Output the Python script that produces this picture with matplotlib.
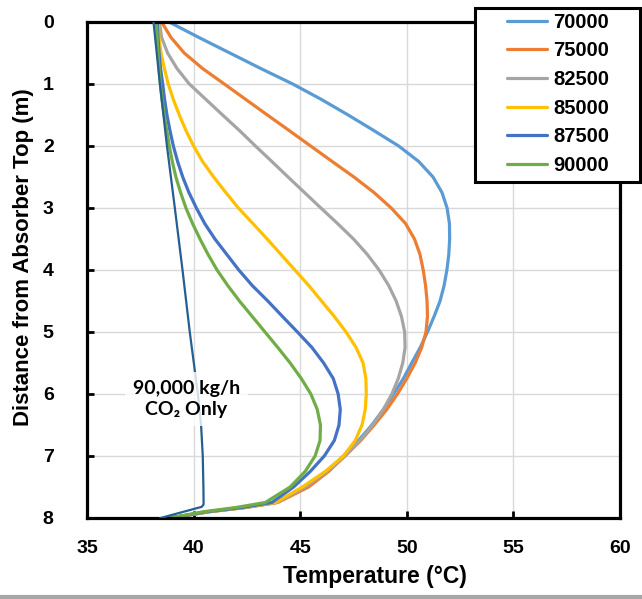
import matplotlib
matplotlib.use("Agg")
import matplotlib.pyplot as plt
from matplotlib.patches import Rectangle
from matplotlib.lines import Line2D

# flow rates (kg/h) and colours
labels = ["70000", "75000", "82500", "85000", "87500", "90000"]
colors = ["#5B9BD5", "#ED7D31", "#A5A5A5", "#FFC000", "#4472C4", "#70AD47"]

# distance from absorber top (m), shared by the six profiles
depth = [0, 0.25, 0.5, 0.75, 1.0, 1.25, 1.5, 1.75, 2.0, 2.25, 2.5, 2.75, 3.0, 3.25, 3.5, 3.75,
         4.0, 4.25, 4.5, 4.75, 5.0, 5.25, 5.5, 5.75, 6.0, 6.25, 6.5, 6.75, 7.0, 7.25, 7.5, 7.75,
         7.83, 7.9, 8.0]

# temperature (degC)
t_70000 = [38.85, 40.25, 41.7, 43.15, 44.65, 46.0, 47.25, 48.45, 49.62, 50.56, 51.23, 51.65,
           51.89, 52.0, 52.01, 51.97, 51.88, 51.75, 51.56, 51.28, 50.97, 50.63, 50.23, 49.84,
           49.38, 48.9, 48.36, 47.73, 47.03, 46.25, 45.3, 43.85, 42.4, 40.7, 38.9]
t_75000 = [38.5, 38.94, 39.56, 40.42, 41.44, 42.45, 43.46, 44.48, 45.49, 46.5, 47.52, 48.46,
           49.27, 49.94, 50.36, 50.62, 50.77, 50.88, 50.95, 50.97, 50.9, 50.7, 50.39, 50.0,
           49.56, 49.06, 48.47, 47.84, 47.1, 46.33, 45.39, 43.95, 42.45, 40.7, 38.9]
t_82500 = [38.4, 38.5, 38.78, 39.22, 39.8, 40.58, 41.36, 42.15, 42.9, 43.67, 44.43, 45.2,
           45.97, 46.75, 47.5, 48.15, 48.7, 49.15, 49.5, 49.75, 49.9, 49.92, 49.81, 49.6,
           49.3, 48.9, 48.4, 47.8, 47.1, 46.25, 45.23, 43.9, 42.4, 40.7, 38.9]
t_85000 = [38.35, 38.37, 38.47, 38.63, 38.81, 39.05, 39.33, 39.64, 40.0, 40.42, 40.94, 41.51,
           42.1, 42.78, 43.45, 44.1, 44.75, 45.4, 46.0, 46.6, 47.15, 47.62, 47.95, 48.08,
           48.1, 48.05, 47.9, 47.58, 47.03, 46.17, 45.1, 43.85, 42.35, 40.65, 38.9]
t_87500 = [38.3, 38.33, 38.38, 38.45, 38.55, 38.64, 38.75, 38.89, 39.05, 39.25, 39.49, 39.78,
           40.13, 40.52, 41.0, 41.56, 42.12, 42.75, 43.48, 44.17, 44.87, 45.55, 46.1, 46.55,
           46.78, 46.88, 46.82, 46.6, 46.13, 45.47, 44.69, 43.67, 42.3, 40.6, 38.9]
t_90000 = [38.25, 38.29, 38.33, 38.38, 38.44, 38.52, 38.62, 38.74, 38.86, 39.0, 39.17, 39.39,
           39.64, 39.95, 40.3, 40.68, 41.1, 41.6, 42.15, 42.75, 43.35, 43.95, 44.53, 45.05,
           45.5, 45.8, 45.95, 45.93, 45.7, 45.23, 44.53, 43.36, 42.0, 40.45, 38.9]

# 90,000 kg/h, CO2 only
d_co2 = [0, 1.0, 2.0, 3.0, 4.0, 5.0, 6.0, 6.5, 7.0, 7.5, 7.78, 7.82, 8.0]
t_co2 = [38.12, 38.42, 38.75, 39.12, 39.48, 39.82, 40.2, 40.35, 40.43, 40.46, 40.47, 40.38, 38.45]

series_t = [t_70000, t_75000, t_82500, t_85000, t_87500, t_90000]

bold_font = ["Liberation Sans", "DejaVu Sans"]

fig = plt.figure(figsize=(6.42, 5.99), dpi=100)
ax = fig.add_axes([87 / 642, 1 - 518 / 599, 533 / 642, 496 / 599])

handles = []
for t, lab, c in zip(series_t, labels, colors):
    h, = ax.plot(t, depth, color=c, lw=2.3, label=lab, solid_capstyle="round", solid_joinstyle="round")
    handles.append(h)
ax.plot(t_co2, d_co2, color="#255E91", lw=1.6, zorder=3)

ax.text(39.65, 6.08, "90,000 kg/h\nCO\u2082 Only", ha="center", va="center",
        fontsize=14, fontweight="bold", family=["Lato", "DejaVu Sans"],
        linespacing=1.3, zorder=4,
        bbox=dict(boxstyle="square,pad=0.4", fc="white", ec="none", alpha=0.8))

ax.set_xlim(35, 60)
ax.set_ylim(8, 0)
ax.set_xticks(range(35, 61, 5))
ax.set_yticks(range(0, 9))
ax.grid(True, color="#D9D9D9", lw=1)
ax.set_axisbelow(True)

for s in ax.spines.values():
    s.set_linewidth(2.3)
    s.set_color("black")
ax.tick_params(axis="both", direction="in", length=5, width=2, color="black")
ax.tick_params(axis="y", pad=24)
ax.tick_params(axis="x", pad=16)
for lbl in ax.get_xticklabels() + ax.get_yticklabels():
    lbl.set_family(bold_font)
    lbl.set_fontweight("bold")
    lbl.set_fontsize(14)

ax.set_xlabel("Temperature (\u00b0C)", family=bold_font, fontweight="bold", fontsize=16.5)
ax.xaxis.set_label_coords(0.54, -0.095)
ax.set_ylabel("Distance from Absorber Top (m)", family=bold_font, fontweight="bold", fontsize=16)
ax.yaxis.set_label_coords(-0.10, 0.526)

# legend box sits over the top right corner, like the original
fig.patches.append(Rectangle((475 / 642, 1 - 182 / 599), 165 / 642, 174 / 599,
                             transform=fig.transFigure, fc="white", ec="black", lw=2.2, zorder=5))
leg = fig.legend(handles=handles, loc="center", bbox_to_anchor=(558 / 642, 1 - 94 / 599),
                 frameon=False, prop=dict(family=bold_font, weight="bold", size=14.5),
                 handlelength=2.0, handletextpad=0.3, labelspacing=0.48, borderpad=0)
leg.set_zorder(6)

fig.add_artist(Line2D([0, 1], [0.004, 0.004], transform=fig.transFigure, color="#A6A6A6", lw=3))

fig.savefig("out.png", dpi=100)
